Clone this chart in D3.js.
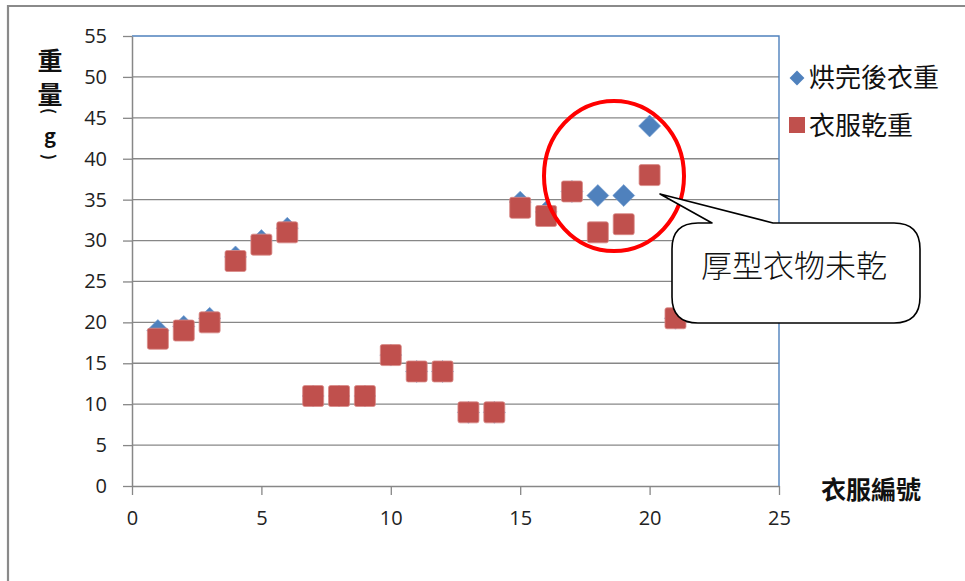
<!DOCTYPE html>
<html>
<head>
<meta charset="utf-8">
<script src="https://cdn.jsdelivr.net/npm/d3@7"></script>
<style>
  html, body { margin: 0; padding: 0; background: #fff; }
  svg { display: block; }
</style>
</head>
<body>
<svg id="chart" width="965" height="581"></svg>
<script>
// Clothing number (x) and weights in grams
const itemIds = [1, 2, 3, 4, 5, 6, 7, 8, 9, 10, 11, 12, 13, 14, 15, 16, 17, 18, 19, 20, 21];
const afterDryingWeight = [19, 19.5, 20.5, 28, 30, 31.5, 11, 11, 11, 16, 14, 14, 9, 9, 34.7, 33.5, 36, 35.5, 35.5, 44, 20.5];
const dryClothWeight   = [18, 19, 20, 27.5, 29.5, 31, 11, 11, 11, 16, 14, 14, 9, 9, 34, 33, 36, 31, 32, 38, 20.5];
const xTicks = [0, 5, 10, 15, 20, 25];
const yTicks = [0, 5, 10, 15, 20, 25, 30, 35, 40, 45, 50, 55];
const seriesNames = ["烘完後衣重", "衣服乾重"];
const calloutText = "厚型衣物未乾";

const blue = "#4F81BD", red = "#C0504D", grid = "#878787";
const svg = d3.select("#chart");

// outer chart frame (runs off the right and bottom edges)
svg.append("path")
  .attr("d", "M8,590 L8,6 L975,6")
  .attr("fill", "none").attr("stroke", "#8a8a8a").attr("stroke-width", 2.2);

const plot = { left: 132, right: 779, top: 36, bottom: 486 };
const x = d3.scaleLinear().domain([0, 25]).range([plot.left, plot.right]);
const y = d3.scaleLinear().domain([0, 55]).range([plot.bottom, plot.top]);

// horizontal gridlines
svg.append("g").selectAll("line").data(yTicks.filter(v => v > 0 && v < 55)).join("line")
  .attr("x1", plot.left).attr("x2", plot.right)
  .attr("y1", d => y(d)).attr("y2", d => y(d))
  .attr("stroke", grid).attr("stroke-width", 1.3);

// blue plot-area border on top and right
svg.append("path")
  .attr("d", `M${plot.left},${y(55)} L${plot.right},${y(55)} L${plot.right},${plot.bottom}`)
  .attr("fill", "none").attr("stroke", blue).attr("stroke-width", 1.4);

// y axis
const yAxis = svg.append("g").attr("transform", `translate(${plot.left},0)`)
  .call(d3.axisLeft(y).tickValues(yTicks).tickSize(9).tickPadding(16).tickSizeOuter(0));
yAxis.select(".domain").attr("stroke", grid).attr("stroke-width", 1.5);
yAxis.selectAll(".tick line").attr("stroke", grid).attr("stroke-width", 1.3);
yAxis.selectAll(".tick text").attr("font-family", "'Open Sans', 'Liberation Sans', sans-serif")
  .attr("font-size", 20).attr("fill", "#222");

// x axis
const xAxis = svg.append("g").attr("transform", `translate(0,${plot.bottom})`)
  .call(d3.axisBottom(x).tickValues(xTicks).tickSize(9).tickPadding(16).tickSizeOuter(0));
xAxis.select(".domain").attr("stroke", grid).attr("stroke-width", 1.5);
xAxis.selectAll(".tick line").attr("stroke", grid).attr("stroke-width", 1.3);
xAxis.selectAll(".tick text").attr("font-family", "'Open Sans', 'Liberation Sans', sans-serif")
  .attr("font-size", 20).attr("fill", "#222");

// markers
const diamond = d3.symbol().type(d3.symbolSquare).size(240);
const afterPts = itemIds.map((id, i) => ({ id, v: afterDryingWeight[i] }));
const dryPts = itemIds.map((id, i) => ({ id, v: dryClothWeight[i] }));

svg.append("g").selectAll("path").data(afterPts).join("path")
  .attr("d", diamond)
  .attr("transform", d => `translate(${x(d.id)},${y(d.v)}) rotate(45)`)
  .attr("fill", blue).attr("stroke", "#6f9ad0").attr("stroke-width", 0.6);

svg.append("g").selectAll("rect").data(dryPts).join("rect")
  .attr("x", d => x(d.id) - 10.5).attr("y", d => y(d.v) - 10.5)
  .attr("width", 21).attr("height", 21).attr("rx", 2)
  .attr("fill", red).attr("stroke", "#d98a88").attr("stroke-width", 0.8);

// y axis title, stacked vertically; brackets turned sideways
const yTitleFont = "'Noto Sans CJK TC', sans-serif";
const yTitle = svg.append("g").attr("font-family", yTitleFont).attr("font-weight", "bold")
  .attr("fill", "#111").attr("text-anchor", "middle");
yTitle.append("text").attr("x", 50).attr("y", 70).attr("font-size", 25).text("重");
yTitle.append("text").attr("x", 50).attr("y", 104).attr("font-size", 25).text("量");
yTitle.append("text").attr("transform", "translate(50,111) rotate(90)")
  .attr("dominant-baseline", "central").attr("font-size", 16).text("(");
yTitle.append("text").attr("x", 50).attr("y", 143).attr("font-size", 20).text("g");
yTitle.append("text").attr("transform", "translate(50,157) rotate(90)")
  .attr("dominant-baseline", "central").attr("font-size", 16).text(")");

// x axis title
svg.append("text").attr("x", 871).attr("y", 488)
  .attr("text-anchor", "middle").attr("dominant-baseline", "central")
  .attr("font-family", "'Noto Sans CJK TC', sans-serif").attr("font-weight", "bold")
  .attr("font-size", 25).attr("fill", "#111").text("衣服編號");

// legend
const legend = svg.append("g");
legend.append("path").attr("d", d3.symbol().type(d3.symbolSquare).size(110))
  .attr("transform", "translate(797,78) rotate(45)").attr("fill", blue);
legend.append("rect").attr("x", 789).attr("y", 117).attr("width", 16).attr("height", 16).attr("fill", red);
legend.selectAll("text").data(seriesNames).join("text")
  .attr("x", 809).attr("y", (d, i) => 75 + i * 48)
  .attr("dominant-baseline", "central")
  .attr("font-family", "'Noto Sans CJK TC', sans-serif").attr("font-size", 26)
  .attr("fill", "#111").text(d => d);

// highlight ellipse around the thick garments
svg.append("ellipse").attr("cx", 614).attr("cy", 176).attr("rx", 70).attr("ry", 75)
  .attr("fill", "none").attr("stroke", "#ff0000").attr("stroke-width", 4);

// speech callout
const L = 672, R = 920, T = 223, B = 323, r = 26;
const tip = [660, 194], baseA = 712, baseB = 773;
const calloutPath = [
  `M${L + r},${T}`,
  `L${baseA},${T}`,
  `L${tip[0]},${tip[1]}`,
  `L${baseB},${T}`,
  `L${R - r},${T}`,
  `Q${R},${T} ${R},${T + r}`,
  `L${R},${B - r}`,
  `Q${R},${B} ${R - r},${B}`,
  `L${L + r},${B}`,
  `Q${L},${B} ${L},${B - r}`,
  `L${L},${T + r}`,
  `Q${L},${T} ${L + r},${T}`,
  "Z"
].join(" ");
svg.append("path").attr("d", calloutPath)
  .attr("fill", "#fff").attr("stroke", "#000").attr("stroke-width", 1.6).attr("stroke-linejoin", "round");
svg.append("text").attr("x", 794).attr("y", 263)
  .attr("text-anchor", "middle").attr("dominant-baseline", "central")
  .attr("font-family", "'Noto Sans CJK TC', sans-serif").attr("font-weight", 300)
  .attr("font-size", 31).attr("fill", "#111").text(calloutText);
</script>
</body>
</html>
